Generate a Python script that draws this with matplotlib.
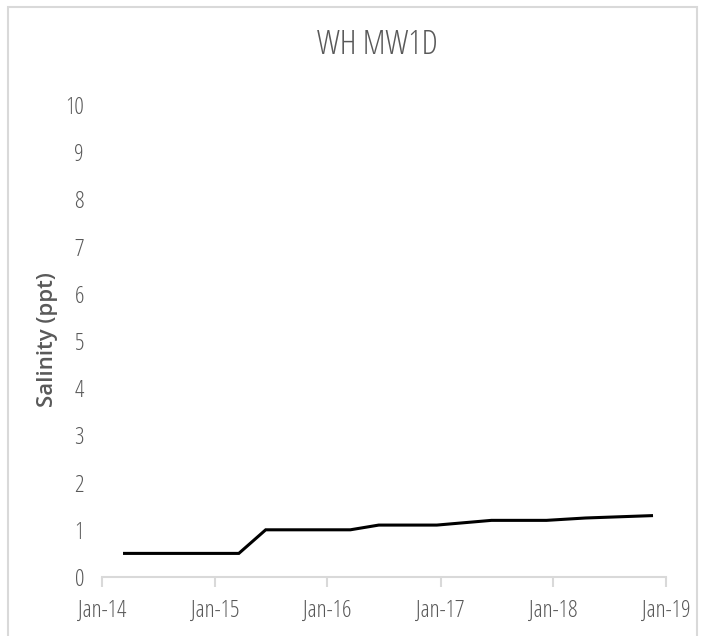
import datetime as dt
import matplotlib
matplotlib.use("Agg")
import matplotlib.pyplot as plt
import matplotlib.dates as mdates
from matplotlib.patches import Rectangle

# ========== DATA ==========
sample_dates = ["2014-03-15", "2015-03-20", "2015-06-15", "2016-03-15", "2016-06-15",
                "2016-12-20", "2017-06-15", "2017-12-10", "2018-04-15", "2018-11-15"]
salinity = [0.5, 0.5, 1.0, 1.0, 1.1, 1.1, 1.2, 1.2, 1.25, 1.3]
title = "WH MW1D"
y_label = "Salinity (ppt)"
y_ticks = list(range(0, 11))
# ==========================

dates = [dt.datetime.strptime(d, "%Y-%m-%d") for d in sample_dates]
grey = "#595959"

fig = plt.figure(figsize=(7.05, 6.36), dpi=100)
ax = fig.add_axes([102 / 705, 59 / 636, 564 / 705, 472 / 636])

# light frame around the whole chart (Excel chart area)
fig.patches.append(Rectangle((8 / 705, -0.05), 689 / 705, 1.05 - 7 / 636,
                             transform=fig.transFigure, fill=False,
                             edgecolor="#d9d9d9", linewidth=1.5))

ax.plot(dates, salinity, color="black", linewidth=2.2, solid_joinstyle="miter")

ax.set_xlim(dt.datetime(2014, 1, 1), dt.datetime(2019, 1, 1))
ax.set_ylim(0, 10)
ax.set_yticks(y_ticks)
ax.xaxis.set_major_locator(mdates.YearLocator())
ax.xaxis.set_major_formatter(mdates.DateFormatter("%b-%y"))

for s in ["top", "right", "left"]:
    ax.spines[s].set_visible(False)
ax.spines["bottom"].set_color("#d9d9d9")
ax.spines["bottom"].set_linewidth(1.5)

ax.tick_params(axis="x", length=7, width=1.5, color="#d9d9d9", pad=9,
               labelcolor=grey, labelsize=17)
ax.tick_params(axis="y", length=0, pad=13, labelcolor=grey, labelsize=17)
for lbl in ax.get_xticklabels() + ax.get_yticklabels():
    lbl.set_fontfamily("Open Sans")
    lbl.set_fontstretch("condensed")
    lbl.set_fontweight("normal")

fig.text(377 / 705, 1 - 45 / 636, title, ha="center", va="center",
         fontsize=24, color=grey, family="Open Sans", fontstretch="condensed",
         fontweight="light")
fig.text(48 / 705, 1 - 340 / 636, y_label, rotation=90, ha="center", va="center",
         fontsize=16, color=grey, fontweight="semibold", family="Open Sans",
         fontstretch="normal")

fig.savefig("out.png", dpi=100)
